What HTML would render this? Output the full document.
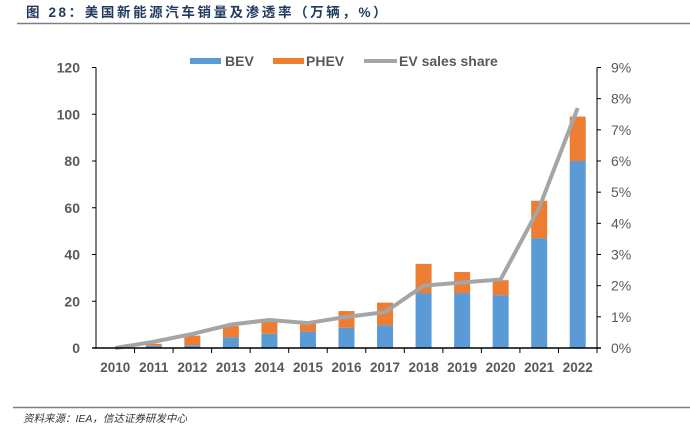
<!DOCTYPE html>
<html><head><meta charset="utf-8"><style>
body{margin:0;background:#fff;width:690px;height:434px;overflow:hidden;font-family:"Liberation Sans","Noto Sans CJK SC",sans-serif}
svg text{font-family:"Liberation Sans","Noto Sans CJK SC",sans-serif}
</style></head><body>
<svg id="c" width="690" height="434" xmlns="http://www.w3.org/2000/svg">
<text x="26" y="17" font-size="13.5" font-weight="bold" fill="#1f3a5f" letter-spacing="2.6">图 28：美国新能源汽车销量及渗透率（万辆，%）</text>
<line x1="17" y1="23.5" x2="690" y2="23.5" stroke="#7f7f7f" stroke-width="1.5"/>
<line x1="13" y1="407.5" x2="690" y2="407.5" stroke="#7f7f7f" stroke-width="1.5"/>
<text x="23" y="422" font-size="10.5" font-style="italic" fill="#333">资料来源：IEA，信达证券研发中心</text>
<g>
<rect x="190" y="58" width="31" height="6" fill="#5b9bd5"/>
<text x="225" y="66" font-size="14" font-weight="bold" fill="#595959">BEV</text>
<rect x="273" y="58" width="31" height="6" fill="#ed7d31"/>
<text x="306" y="66" font-size="14" font-weight="bold" fill="#595959">PHEV</text>
<line x1="364" y1="61" x2="397" y2="61" stroke="#a5a5a5" stroke-width="4"/>
<text x="399" y="66" font-size="14" font-weight="bold" fill="#595959">EV sales share</text>
</g>
<g id="plot"></g>
</svg>
<script>
const years=['2010','2011','2012','2013','2014','2015','2016','2017','2018','2019','2020','2021','2022'];
const bev=[0,1,1.2,4.6,6.1,7.0,8.7,9.7,23.5,23.5,22.6,47,80];
const phev=[0,0.8,4.1,4.8,5.1,3.5,7.1,9.7,12.5,9,6.4,16,19];
const share=[0,0.2,0.45,0.75,0.9,0.8,1.0,1.15,2.0,2.1,2.2,4.5,7.7];
const leftTicks=[0,20,40,60,80,100,120];
const rightTicks=[0,1,2,3,4,5,6,7,8,9];
const L=96,R=597,T=67.5,B=348;
const bw=(R-L)/years.length;
const xc=i=>L+bw*(i+0.5);
const yl=v=>B-(B-T)*v/120;
const yr=v=>B-(B-T)*v/9;
const g=document.getElementById('plot');
const NS='http://www.w3.org/2000/svg';
function mk(t,a){const e=document.createElementNS(NS,t);for(const k in a)e.setAttribute(k,a[k]);g.appendChild(e);return e;}
years.forEach((y,i)=>{
 let r=mk('rect',{x:xc(i)-8,y:yl(bev[i]),width:16,height:yl(0)-yl(bev[i]),fill:'#5b9bd5'});
 
 
 r=mk('rect',{x:xc(i)-8,y:yl(bev[i]+phev[i]),width:16,height:yl(bev[i])-yl(bev[i]+phev[i]),fill:'#ed7d31'});
 
 
 const t=mk('text',{x:xc(i),y:372,'font-size':13.5,'font-weight':'bold',fill:'#595959','text-anchor':'middle'});
 t.textContent=y;
 
 
 const tk=mk('line',{x1:L+bw*(i+1),x2:L+bw*(i+1),y1:B,y2:B+5,stroke:'#000'});
 
 
});
const ln=mk('polyline',{points:share.map((v,i)=>xc(i)+','+yr(v)).join(' '),fill:'none',stroke:'#a5a5a5','stroke-width':4,'stroke-linejoin':'round'});


let a=mk('line',{x1:L,x2:L,y1:T,y2:B,stroke:'#000'});


a=mk('line',{x1:R,x2:R,y1:T,y2:B,stroke:'#000'});


a=mk('line',{x1:L-4,x2:R+4,y1:B,y2:B,stroke:'#000','stroke-width':1.5});


leftTicks.forEach(v=>{
 const l=mk('line',{x1:L-4,x2:L,y1:yl(v),y2:yl(v),stroke:'#000'});
 
 
 const t=mk('text',{x:80,y:yl(v)+5,'font-size':14,'font-weight':'bold',fill:'#595959','text-anchor':'end'});
 t.textContent=v;
 
 
});
rightTicks.forEach(v=>{
 const l=mk('line',{x1:R,x2:R+4,y1:yr(v),y2:yr(v),stroke:'#000'});
 
 
 const t=mk('text',{x:611,y:yr(v)+5,'font-size':14,fill:'#595959'});
 t.textContent=v+'%';
 
 
});
</script>
</body></html>
